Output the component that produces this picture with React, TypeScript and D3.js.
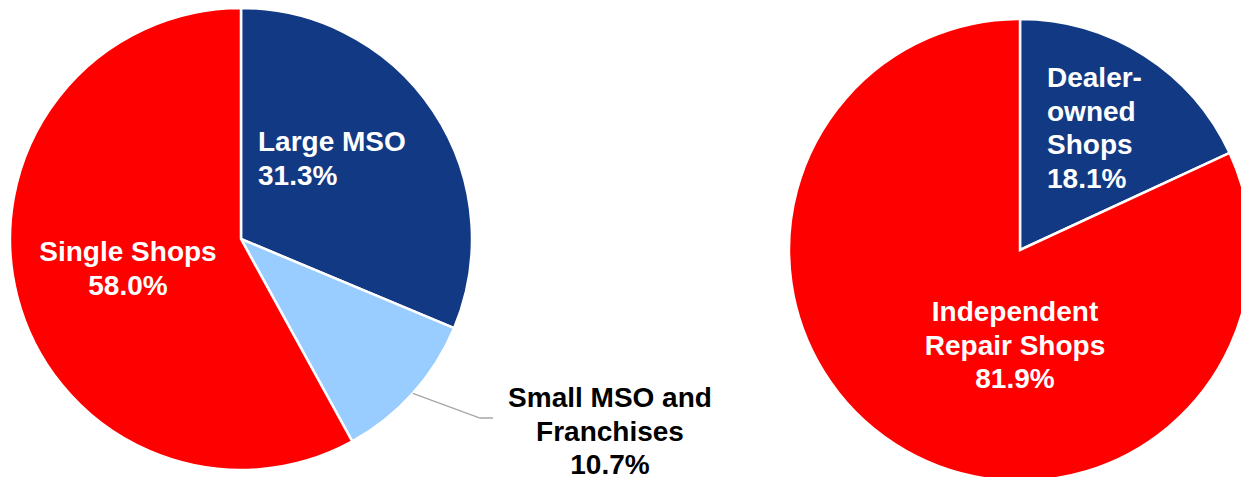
import React from 'react';
import * as d3 from 'd3';

// Left pie: structure of shops by type
const leftCategories = ['Large MSO', 'Small MSO and Franchises', 'Single Shops'];
const leftValues = [31.3, 10.7, 58.0];
const leftColors = ['#123984', '#99CCFF', '#FF0000'];

// Right pie: dealer vs independent
const rightCategories = ['Dealer-owned Shops', 'Independent Repair Shops'];
const rightValues = [18.1, 81.9];
const rightColors = ['#123984', '#FF0000'];

const W = 1241;
const H = 477;
const R = 231;
const FONT = 'Liberation Sans, Arial, sans-serif';

const fmt = (v: number) => d3.format('.1f')(v) + '%';

type Slice = { name: string; value: number; color: string };

const makeSlices = (names: string[], values: number[], colors: string[]): Slice[] =>
  names.map((name, i) => ({ name, value: values[i], color: colors[i] }));

const pie = d3.pie<Slice>().sort(null).value(d => d.value);
const arc = d3.arc<d3.PieArcDatum<Slice>>().innerRadius(0).outerRadius(R);

const Label: React.FC<{ x: number; y: number; lines: string[]; anchor?: string; fill?: string }> = ({
  x, y, lines, anchor = 'middle', fill = '#fff',
}) => (
  <text x={x} y={y} textAnchor={anchor} fill={fill} fontFamily={FONT} fontWeight="bold" fontSize={28}>
    {lines.map((l, i) => (
      <tspan key={i} x={x} dy={i === 0 ? 0 : 33.5}>{l}</tspan>
    ))}
  </text>
);

export default function App() {
  const left = pie(makeSlices(leftCategories, leftValues, leftColors));
  const right = pie(makeSlices(rightCategories, rightValues, rightColors));

  const lc = { x: 241, y: 239 };
  const rc = { x: 1020, y: 250 };

  // leader line for the small slice, starting at its outer edge
  const small = left[1];
  const mid = (small.startAngle + small.endAngle) / 2;
  const p0 = [lc.x + Math.sin(mid) * R, lc.y - Math.cos(mid) * R];

  return (
    <svg width={W} height={H} style={{ position: 'absolute', left: 0, top: 0 }}>
      <rect width={W} height={H} fill="#fff" />
      <g transform={`translate(${lc.x},${lc.y})`}>
        {left.map((d, i) => (
          <path key={i} d={arc(d) || ''} fill={d.data.color} stroke="#fff" strokeWidth={2.5} />
        ))}
      </g>
      <g transform={`translate(${rc.x},${rc.y})`}>
        {right.map((d, i) => (
          <path key={i} d={arc(d) || ''} fill={d.data.color} stroke="#fff" strokeWidth={2.5} />
        ))}
      </g>

      <polyline
        points={`${p0[0]},${p0[1]} 480,418 493,418`}
        fill="none"
        stroke="#a6a6a6"
        strokeWidth={1.3}
      />

      <Label x={lc.x + 17} y={lc.y - 88} anchor="start" lines={['Large MSO', fmt(leftValues[0])]} />
      <Label x={lc.x - 113} y={lc.y + 22} lines={['Single Shops', fmt(leftValues[2])]} />
      <Label x={610} y={407} fill="#000" lines={['Small MSO and', 'Franchises', fmt(leftValues[1])]} />

      <Label x={rc.x + 27} y={rc.y - 163} anchor="start" lines={['Dealer-', 'owned', 'Shops', fmt(rightValues[0])]} />
      <Label x={rc.x - 5} y={rc.y + 71} lines={['Independent', 'Repair Shops', fmt(rightValues[1])]} />
    </svg>
  );
}
